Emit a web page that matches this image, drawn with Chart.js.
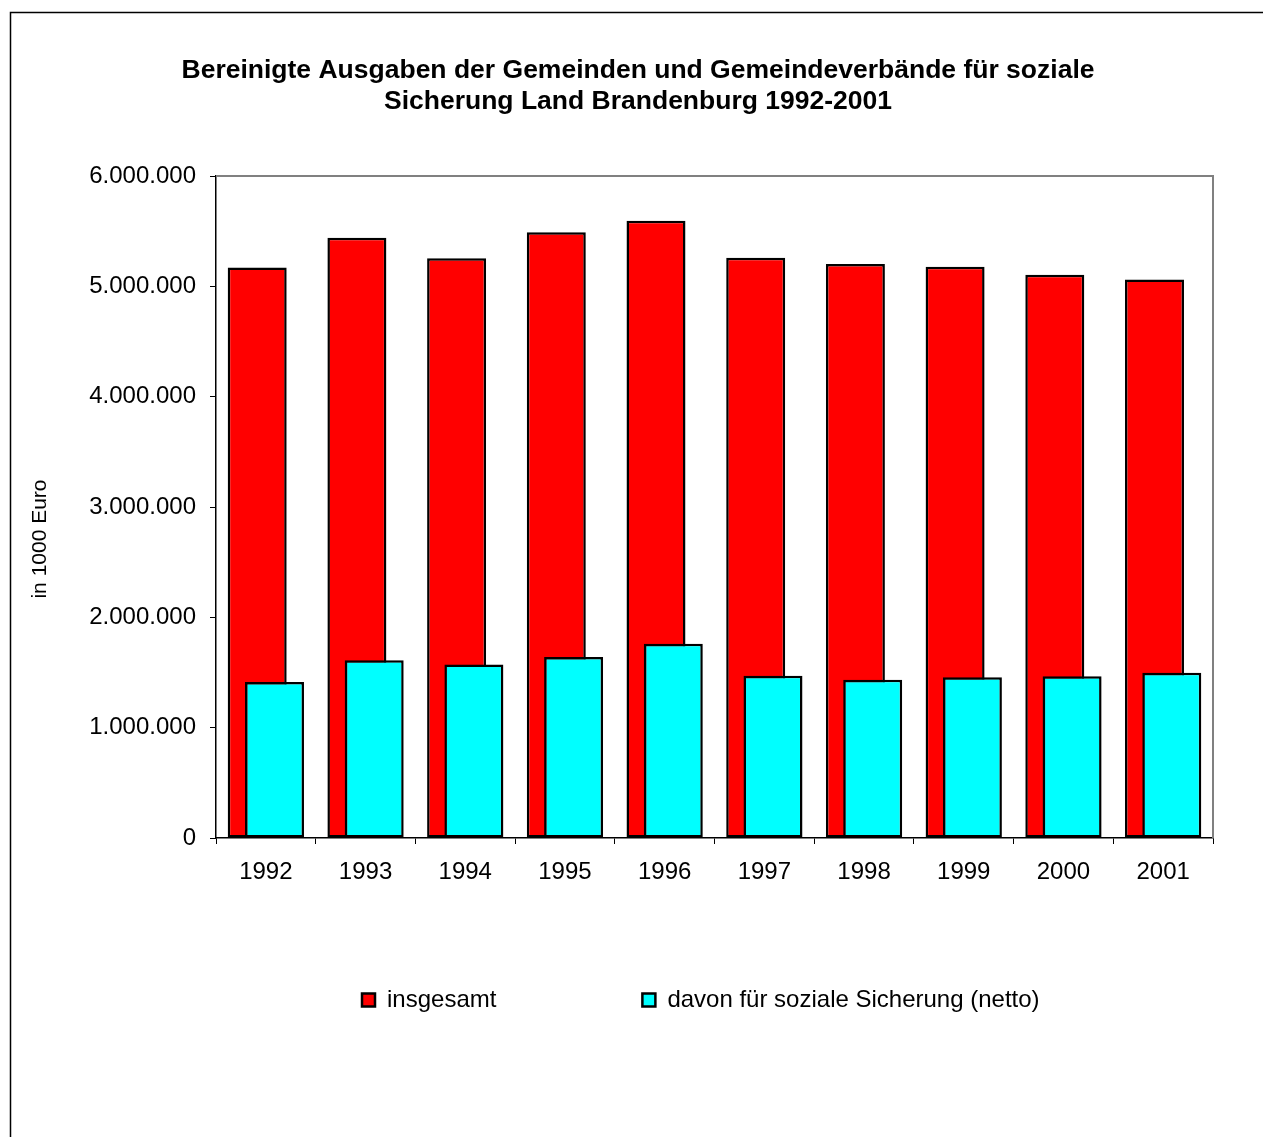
<!DOCTYPE html>
<html>
<head>
<meta charset="utf-8">
<script src="https://cdn.jsdelivr.net/npm/chart.js@4/dist/chart.umd.min.js"></script>
<style>
html,body{margin:0;padding:0;background:#fff;overflow:hidden}
#wrap{position:relative;width:1263px;height:1137px}
canvas{display:block}
</style>
</head>
<body>
<div id="wrap"><canvas id="c" width="1263" height="1137"></canvas></div>
<script>
// ---- data ----
const years = ['1992','1993','1994','1995','1996','1997','1998','1999','2000','2001'];
const insgesamt = [5170000, 5440000, 5255000, 5490000, 5595000, 5260000, 5202000, 5177000, 5105000, 5062000];
const sozialeSicherung = [1415000, 1610000, 1573000, 1640000, 1760000, 1470000, 1435000, 1457000, 1465000, 1498000];
const seriesNames = ['insgesamt', 'davon für soziale Sicherung (netto)'];
const titleLines = ['Bereinigte Ausgaben der Gemeinden und Gemeindeverbände für soziale', 'Sicherung Land Brandenburg 1992-2001'];
const yAxisTitle = 'in 1000 Euro';
const yMin = 0, yMax = 6000000, yStep = 1000000;

function fmtDE(v){ return String(v).replace(/\B(?=(\d{3})+(?!\d))/g, '.'); }

const FONT = "'Liberation Sans', Arial, sans-serif";
Chart.defaults.font.family = FONT;
Chart.defaults.color = '#000';

// draw the cyan series on top of the red one
const drawOrder = {
  id: 'drawOrder',
  beforeDatasetsDraw(chart){
    for (let i = 0; i < chart.data.datasets.length; i++) {
      chart.getDatasetMeta(i).controller.draw();
    }
    return false;
  }
};

const frame = {
  id: 'frame',
  afterDraw(chart){
    const {ctx, chartArea: a} = chart;
    ctx.save();
    ctx.strokeStyle = '#808080';
    ctx.lineWidth = 2;
    ctx.beginPath();
    ctx.moveTo(a.left, a.top);
    ctx.lineTo(a.right, a.top);
    ctx.lineTo(a.right, a.bottom);
    ctx.stroke();
    ctx.strokeStyle = '#000';
    ctx.lineWidth = 1.5;
    ctx.strokeRect(10.5, 12.5, 1400, 1300);
    // y axis title
    ctx.fillStyle = '#000';
    ctx.font = '21px ' + FONT;
    ctx.textAlign = 'center';
    ctx.textBaseline = 'middle';
    ctx.translate(40, 539);
    ctx.rotate(-Math.PI / 2);
    ctx.fillText(yAxisTitle, 0, 0);
    ctx.restore();
  }
};

new Chart(document.getElementById('c'), {
  type: 'bar',
  data: {
    labels: years,
    datasets: [
      { label: seriesNames[0], data: insgesamt, backgroundColor: '#ff0000', borderColor: '#000', borderWidth: 2.5, borderSkipped: false },
      { label: seriesNames[1], data: sozialeSicherung, backgroundColor: '#00ffff', borderColor: '#000', borderWidth: 2.5, borderSkipped: false }
    ]
  },
  options: {
    responsive: false,
    animation: false,
    devicePixelRatio: 1,
    categoryPercentage: 0.347,
    barPercentage: 3.41,
    layout: { padding: { left: 63, right: 50, top: 0, bottom: 115 } },
    plugins: {
      title: {
        display: true,
        text: titleLines,
        font: { size: 26.5, weight: 'bold', lineHeight: 1.18 },
        padding: { top: 55, bottom: 58.5 }
      },
      legend: {
        position: 'bottom',
        fullSize: false,
        align: 'start',
        title: { display: true, text: '', font: { size: 10, lineHeight: 1.2 }, padding: { top: -35.4, bottom: -35.4 } },
        labels: {
          boxWidth: 13,
          boxHeight: 13,
          padding: 146,
          font: { size: 24 },
          color: '#000'
        }
      },
      tooltip: { enabled: false }
    },
    scales: {
      x: {
        offset: true,
        grid: { display: true, offset: true, drawOnChartArea: false, drawTicks: true, tickLength: 6, color: '#000' },
        border: { display: true, color: '#000', width: 1.5 },
        ticks: { font: { size: 24 }, padding: 14, color: '#000', maxRotation: 0, autoSkip: false }
      },
      y: {
        min: yMin, max: yMax,
        grid: { display: true, drawOnChartArea: false, drawTicks: true, tickLength: 6, color: '#000' },
        border: { display: true, color: '#000', width: 1.5 },
        ticks: { stepSize: yStep, font: { size: 24 }, padding: 14, color: '#000', callback: (v) => fmtDE(v) },
        afterFit(scale){ scale.width = 153; }
      }
    }
  },
  plugins: [drawOrder, frame]
});
</script>
</body>
</html>
